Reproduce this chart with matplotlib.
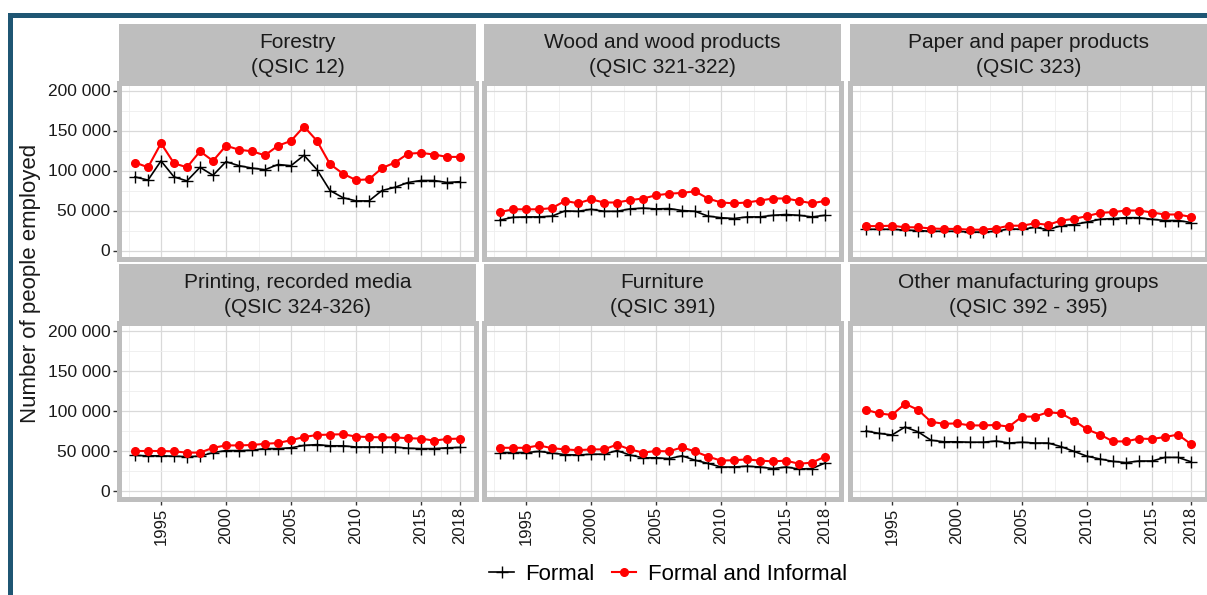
import numpy as np
import matplotlib
matplotlib.use('Agg')
import matplotlib.pyplot as plt
from matplotlib.lines import Line2D
from matplotlib.patches import Rectangle
from matplotlib.ticker import FuncFormatter

plt.rcParams["font.family"] = ["Liberation Sans", "DejaVu Sans"]

W, H = 1207, 595

years = np.arange(1993, 2019)

# employment per sector (people); formal and formal + informal
forestry_formal = [92000, 88000, 112000, 92000, 87000, 104000, 94000, 111000, 106000, 103000, 101000, 107500, 106000,
                   119000, 101000, 75000, 66000, 62000, 62000, 75000, 79000, 85000, 87500, 87500, 85000, 86000]
forestry_total = [110000, 104000, 134000, 109000, 104000, 124000, 112000, 131000, 126000, 124000, 119000, 131000, 137000,
                  155000, 137000, 108000, 96000, 88000, 89000, 103000, 110000, 121000, 122000, 120000, 117000, 117000]

wood_formal = [38000, 41500, 42000, 42000, 43000, 49500, 49000, 51500, 49000, 49000, 52000, 53000, 52000,
               52500, 50000, 49000, 43000, 41000, 40000, 42000, 42000, 44000, 45000, 44000, 42000, 44000]
wood_total = [48000, 51500, 51500, 51500, 53000, 62000, 59000, 64000, 60000, 60000, 63000, 65000, 69000,
              71000, 72000, 74000, 65000, 60000, 59000, 60000, 62500, 65000, 65000, 62000, 59000, 62000]

paper_formal = [26500, 26500, 26500, 25500, 25000, 24000, 24000, 24000, 23000, 23000, 24000, 27000, 26500,
                29000, 26000, 31000, 32500, 35500, 39000, 40000, 41000, 41000, 39000, 37500, 37500, 35000]
paper_total = [30500, 30500, 31000, 29000, 29000, 27500, 27000, 27000, 26000, 26000, 27500, 31000, 31000,
               34000, 32000, 37500, 39500, 43000, 47000, 48000, 50000, 50000, 47500, 45000, 45000, 42000]

printing_formal = [44500, 44000, 44000, 43500, 43000, 43500, 48000, 50500, 50500, 51000, 53000, 53000, 54000,
                   57000, 58000, 56500, 56500, 55000, 55000, 55000, 55000, 53500, 53000, 53000, 54000, 54500]
printing_total = [50000, 50000, 50000, 49500, 48000, 48000, 54000, 57000, 57000, 57500, 59000, 60000, 63500,
                  67500, 70000, 70500, 71000, 68000, 67500, 67000, 67000, 66000, 65500, 63000, 65000, 65500]

furniture_formal = [48000, 48000, 48000, 49500, 47500, 45500, 45000, 46000, 46000, 50500, 45000, 41500, 41500,
                    40500, 44000, 38500, 34500, 30000, 30000, 31000, 30000, 28000, 30000, 27500, 28000, 35000]
furniture_total = [54000, 54000, 54000, 57000, 53500, 52000, 51000, 52000, 52000, 58000, 52000, 48000, 50000,
                   49500, 54500, 49500, 43000, 38000, 38500, 39500, 38000, 37000, 38000, 34000, 35500, 43000]

other_formal = [75000, 72000, 70000, 80000, 74000, 63500, 61500, 61500, 61000, 61000, 62500, 60000, 61000,
                60000, 60000, 55500, 49500, 43500, 40000, 37000, 35500, 37500, 37500, 42000, 42000, 36500]
other_total = [101500, 97000, 95000, 109000, 101500, 86500, 84000, 84500, 82000, 82000, 82500, 80500, 93000,
               93000, 98500, 97000, 88000, 77000, 70500, 62000, 62000, 65500, 65000, 67500, 70500, 58500]

panel_titles = ["Forestry\n(QSIC 12)", "Wood and wood products\n(QSIC 321-322)", "Paper and paper products\n(QSIC 323)",
                "Printing, recorded media\n(QSIC 324-326)", "Furniture\n(QSIC 391)",
                "Other manufacturing groups\n(QSIC 392 - 395)"]
formal_series = [forestry_formal, wood_formal, paper_formal, printing_formal, furniture_formal, other_formal]
total_series = [forestry_total, wood_total, paper_total, printing_total, furniture_total, other_total]

x_breaks = [1995, 2000, 2005, 2010, 2015, 2018]
x_minor = [1992.5, 1997.5, 2002.5, 2007.5, 2012.5, 2016.5]
y_breaks = [0, 50000, 100000, 150000, 200000]
y_minor = [25000, 75000, 125000, 175000]

strip_grey = '#bebebe'
col_left = [118.75, 483.75, 849.75]
row_top = [82.5, 323]
pw, ph, sh = 357.5, 176, 59


def add_px_axes(left, top, width, height):
    return fig.add_axes([left / W, 1 - (top + height) / H, width / W, height / H])


fig = plt.figure(figsize=(W / 100, H / 100), dpi=100)

for k in range(6):
    r, c = divmod(k, 3)
    # strip on top of the panel
    sax = add_px_axes(col_left[c], row_top[r] - sh, pw, sh)
    sax.set_facecolor(strip_grey)
    sax.set_xticks([])
    sax.set_yticks([])
    for s in sax.spines.values():
        s.set_visible(False)
    sax.text(0.5, 0.47, panel_titles[k], ha='center', va='center', fontsize=15, color='#1a1a1a',
             linespacing=1.4, transform=sax.transAxes)

    ax = add_px_axes(col_left[c], row_top[r], pw, ph)
    ax.set_axisbelow(True)
    ax.plot(years, formal_series[k], color='black', lw=1.2, marker='+', ms=8, mew=1, zorder=3)
    ax.plot(years, total_series[k], color='#ff0000', lw=1.5, marker='o', ms=5.5, zorder=4)

    ax.set_xlim(1993 - 1.25, 2018 + 1.25)
    ax.set_ylim(-10000, 210000)
    ax.set_xticks(x_breaks)
    ax.set_xticks(x_minor, minor=True)
    ax.set_yticks(y_breaks)
    ax.set_yticks(y_minor, minor=True)
    ax.grid(which='major', color='#d9d9d9', lw=0.9)
    ax.grid(which='minor', color='#eeeeee', lw=0.6)
    ax.tick_params(which='minor', length=0)
    ax.tick_params(which='major', length=4, width=1, color='#333333', labelcolor='#1a1a1a', pad=2)
    ax.tick_params(axis='y', labelsize=12.5)
    ax.tick_params(axis='x', labelsize=12, labelrotation=90)
    ax.yaxis.set_major_formatter(FuncFormatter(lambda v, pos: f"{int(v):,}".replace(",", " ")))
    if c != 0:
        ax.tick_params(axis='y', left=False, labelleft=False)
    if r == 0:
        ax.tick_params(axis='x', bottom=False, labelbottom=False)
    for s in ax.spines.values():
        s.set_color(strip_grey)
        s.set_linewidth(3.6)

fig.text(31 / W, 1 - 283 / H, "Number of people employed", rotation=90, ha='center', va='center',
         fontsize=16, color='#1a1a1a')

handles = [Line2D([], [], color='black', lw=1.2, marker='+', ms=8, mew=1),
           Line2D([], [], color='#ff0000', lw=1.5, marker='o', ms=5.5)]
fig.legend(handles, ["Formal", "Formal and Informal"], loc='center', bbox_to_anchor=(668 / W, 1 - 574 / H),
           ncol=2, frameon=False, fontsize=16, handlelength=1.1, handletextpad=0.5, columnspacing=0.8)

# dark blue frame around the figure body
fig.patches.append(Rectangle((10 / W, -0.1), 1.2, 1.1 - 15 / H, transform=fig.transFigure,
                             fill=False, ec='#1f5673', lw=3.6))

fig.savefig("out.png", dpi=100, facecolor='white')
